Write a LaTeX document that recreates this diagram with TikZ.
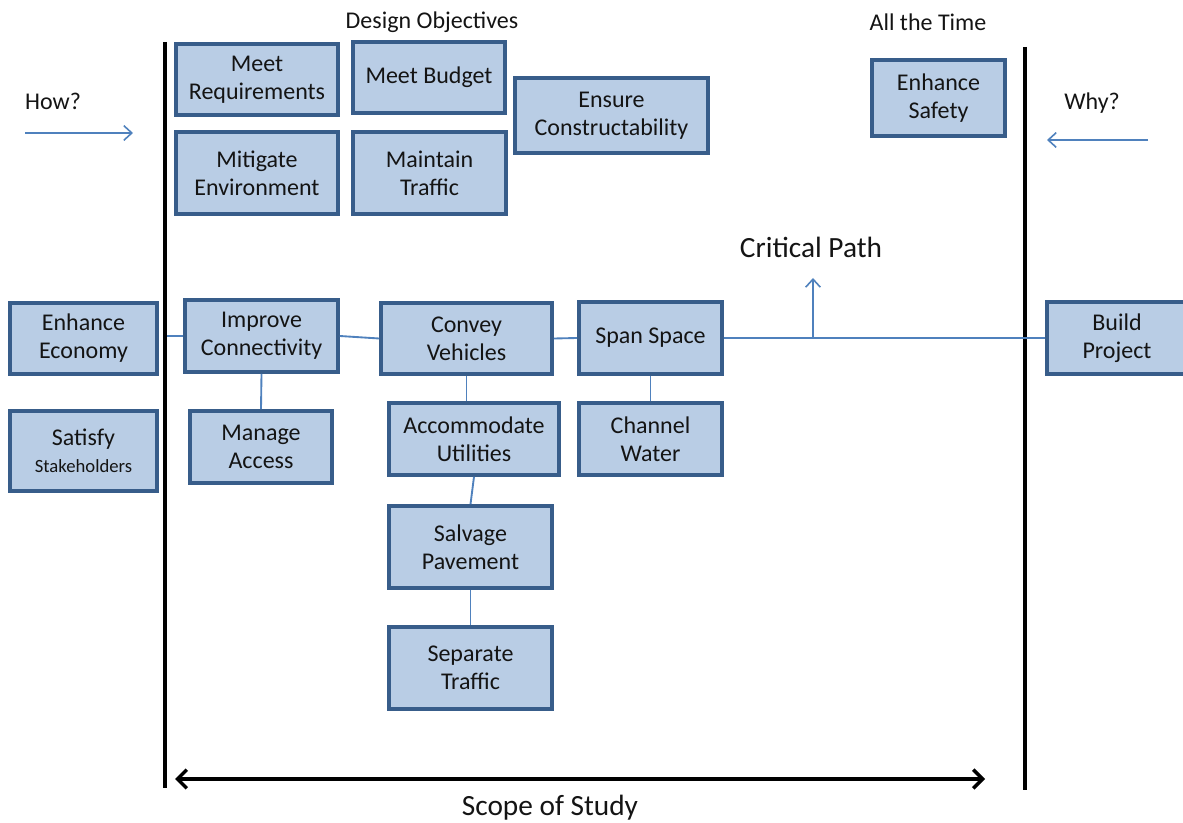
\documentclass[tikz,border=0pt]{standalone}
\usepackage{fontspec}
\setmainfont{Carlito}
\usetikzlibrary{arrows.meta}

\definecolor{boxfill}{HTML}{B9CDE5}
\definecolor{boxline}{HTML}{385D8A}
\definecolor{link}{HTML}{4F81BD}
\definecolor{ink}{HTML}{141414}

\tikzset{
  box/.style={draw=boxline, fill=boxfill, line width=2.7pt, align=center,
    inner sep=0pt, text=ink, font=\fontsize{18}{21}\selectfont},
  link/.style={draw=link, line width=1.4pt},
  barb/.style={-{Straight Barb[length=6pt,width=11pt,line width=1.2pt]}},
  lbl/.style={text=ink, inner sep=0pt, font=\fontsize{18}{21}\selectfont},
  biglbl/.style={text=ink, inner sep=0pt, font=\fontsize{22}{26}\selectfont},
  divider/.style={draw=black, line width=2.4pt},
}

\begin{document}
\begin{tikzpicture}[x=0.75pt, y=-0.75pt]
\useasboundingbox (0,0) rectangle (1183,823);
\clip (0,0) rectangle (1183,823);

% scope boundaries
\coordinate (lt) at (165,42);  \coordinate (lb) at (165,788);
\coordinate (rt) at (1025,47); \coordinate (rb) at (1025,790);
\draw[divider] (lt) -- (lb);
\draw[divider] (rt) -- (rb);

% headings
\node[lbl] (design) at (432,22) {Design Objectives};
\node[lbl] (always) at (928,22) {All the Time};
\node[lbl] (how) at (53,101) {How?};
\node[lbl] (why) at (1092,103) {Why?};
\node[biglbl] (critical) at (811,247) {Critical Path};
\node[biglbl] (scope) at (550,808) {Scope of Study};

% how / why arrows
\coordinate (howA) at (25,133);   \coordinate (howB) at (133,133);
\coordinate (whyA) at (1148,140); \coordinate (whyB) at (1047,140);
\draw[link, line width=1.2pt, barb] (howA) -- (howB);
\draw[link, line width=1.2pt, barb] (whyA) -- (whyB);

% scope of study arrow
\coordinate (scA) at (175,779); \coordinate (scB) at (985,779);
\draw[black, line width=3pt,
  {Straight Barb[length=7pt,width=14pt,line width=2.6pt]}-{Straight Barb[length=7pt,width=14pt,line width=2.6pt]}]
  (scA) -- (scB);

% design objectives
\node[box, minimum width=121.5pt, minimum height=53.25pt] (req) at (257,79.5) {Meet\\Requirements};
\node[box, minimum width=114pt, minimum height=53.25pt] (budget) at (429,77.5) {Meet Budget};
\node[box, minimum width=144.75pt, minimum height=56.25pt] (construct) at (611.5,115.5) {Ensure\\Constructability};
\node[box, minimum width=121.5pt, minimum height=61.5pt] (environ) at (257,173) {Mitigate\\Environment};
\node[box, minimum width=114.75pt, minimum height=61.5pt] (maintain) at (429.5,173) {Maintain\\Traffic};
\node[box, minimum width=99.75pt, minimum height=57pt] (safety) at (938.5,98) {Enhance\\Safety};

% outside the scope, left
\node[box, minimum width=110.25pt, minimum height=53.25pt] (economy) at (83.5,338.5) {Enhance\\Economy};
\node[box, minimum width=110.25pt, minimum height=60pt] (stake) at (83.5,451)
  {Satisfy\\[-1pt]{\fontsize{14}{16}\selectfont Stakeholders}};

% function tree
\node[box, minimum width=114.75pt, minimum height=54pt] (connect) at (261.5,336) {Improve\\Connectivity};
\node[box, minimum width=106.5pt, minimum height=54pt] (access) at (261,447) {Manage\\Access};
\node[box, minimum width=128.25pt, minimum height=53.25pt] (convey) at (466.5,338.5) {Convey\\Vehicles};
\node[box, minimum width=107.25pt, minimum height=54pt] (span) at (650.5,338) {Span Space};
\node[box, minimum width=127.5pt, minimum height=54pt] (utilities) at (474,439) {Accommodate\\Utilities};
\node[box, minimum width=107.25pt, minimum height=54pt] (water) at (650.5,439) {Channel\\Water};
\node[box, minimum width=122.25pt, minimum height=61.5pt] (salvage) at (470.5,547) {Salvage\\Pavement};
\node[box, minimum width=122.25pt, minimum height=61.5pt] (separate) at (470.5,668) {Separate\\Traffic};
\node[box, minimum width=105pt, minimum height=54pt] (build) at (1117,338) {Build\\Project};

% connectors
\coordinate (feed) at (167,336);
\coordinate (cp) at (813,338);
\coordinate (cpTip) at (813,278);
\draw[link] (feed) -- (connect.west);
\draw[link] (connect.east) -- (convey.west);
\draw[link] (convey.east) -- (span.west);
\draw[link] (span.east) -- (build.west);
\draw[link, barb] (cp) -- (cpTip);
\draw[link] (connect.south) -- (access.north);
\draw[link] (convey.south) -- (convey.south |- utilities.north);
\draw[link] (utilities.south) -- (salvage.north);
\draw[link] (salvage.south) -- (separate.north);
\draw[link] (span.south) -- (water.north);
\end{tikzpicture}
\end{document}
